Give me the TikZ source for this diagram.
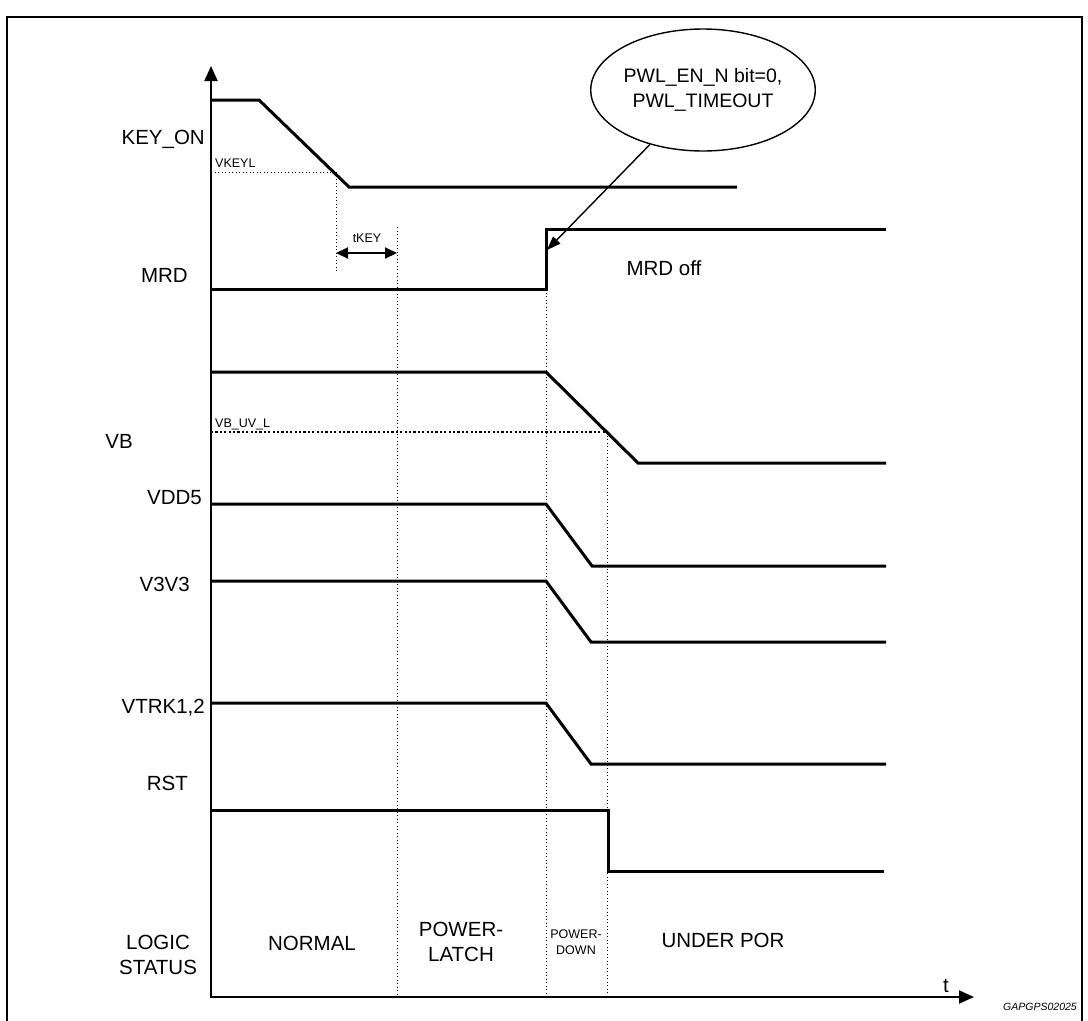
\documentclass[tikz,border=0pt]{standalone}
\usepackage{fontspec}
\setmainfont{Liberation Sans}
\usetikzlibrary{arrows.meta,shapes.geometric}
\begin{document}
\begin{tikzpicture}[x=1pt,y=-1pt,
  lab/.style={inner sep=0pt,font=\fontsize{20.5}{25}\selectfont},
  smalllab/.style={inner sep=0pt,font=\fontsize{12.5}{15}\selectfont},
  sig/.style={line width=3pt,line join=miter},
  axisline/.style={line width=2pt,-{Triangle[length=15pt,width=13pt]}},
  thindots/.style={line width=1pt,dash pattern=on 1pt off 2.5pt},
  thickdots/.style={line width=2.2pt,dash pattern=on 2.2pt off 2.2pt},
  frameline/.style={line width=2.4pt},
  callout/.style={line width=1.4pt,-{Triangle[length=14pt,width=10pt]}},
  dimarrow/.style={line width=2pt,{Triangle[length=12pt,width=11pt]}-{Triangle[length=12pt,width=11pt]}}
]
\useasboundingbox (0,0) rectangle (1088,1021);
% frame
\draw[frameline] (7,1021) -- (7,17) -- (1082,17) -- (1082,1021);

% axes
\coordinate (orig) at (211,997);
\coordinate (ytip) at (211,66);
\coordinate (xtip) at (974,997);
\draw[axisline] (orig) -- (ytip);
\draw[axisline] (210,997) -- (xtip);

% dotted guides
\draw[thindots] (211,172) -- (336,172);
\draw[thindots] (336,172) -- (336,272);
\draw[thindots] (397,227) -- (397,997);
\draw[thindots] (546,289) -- (546,997);
\draw[thindots] (607,432) -- (607,997);
\draw[thickdots] (211,432) -- (607,432);

% KEY_ON
\draw[sig] (211,100) -- (259,100) -- (349,187) -- (737,187);
% MRD
\draw[sig] (211,289) -- (546,289) -- (546,229) -- (886,229);
% VB
\draw[sig] (211,372) -- (546,372) -- (638,463) -- (886,463);
% VDD5
\draw[sig] (211,504) -- (546,504) -- (592,566) -- (886,566);
% V3V3
\draw[sig] (211,581) -- (546,581) -- (591,642) -- (886,642);
% VTRK1,2
\draw[sig] (211,703) -- (546,703) -- (591,764) -- (886,764);
% RST
\draw[sig] (211,810) -- (608,810) -- (608,871) -- (884,871);

% tKEY
\coordinate (tka) at (336,253);
\coordinate (tkb) at (397,253);
\draw[dimarrow] (tka) -- (tkb);
\node[smalllab,anchor=base] (tkey) at (367,242.5) {tKEY};

% signal labels
\node[lab,anchor=base east] (lkey) at (205,144.5) {KEY\_ON};
\node[lab,anchor=base east] (lmrd) at (188,282.5) {MRD};
\node[lab,anchor=base east] (lvb) at (133,448.5) {VB};
\node[lab,anchor=base east] (lvdd) at (202,504.5) {VDD5};
\node[lab,anchor=base east] (lv33) at (190,591.5) {V3V3};
\node[lab,anchor=base east] (lvtrk) at (205,713.5) {VTRK1,2};
\node[lab,anchor=base east] (lrst) at (188,790.5) {RST};
\node[lab,align=center,anchor=base] (llogic) at (158,974.5) {LOGIC\\STATUS};

\node[smalllab,anchor=base west] (lvkeyl) at (215,167.5) {VKEYL};
\node[smalllab,anchor=base west] (lvbuv) at (215,427.5) {VB\_UV\_L};

% MRD off & callout
\node[lab,anchor=base] (mrdoff) at (664,275.5) {MRD off};
\node[draw,ellipse,line width=1.4pt,minimum width=186pt,minimum height=122pt,inner sep=0pt,
      align=center,font=\fontsize{19.5}{25}\selectfont] (ell) at (703,90)
      {PWL\_EN\_N bit=0,\\PWL\_TIMEOUT};
\coordinate (mrdhit) at (547,250);
\draw[callout] (ell) -- (mrdhit);

% states
\node[lab,anchor=base] (snormal) at (312,950) {NORMAL};
\node[lab,align=center,anchor=base] (spl) at (461,961.5) {POWER-\\LATCH};
\node[inner sep=0pt,align=center,anchor=base,font=\fontsize{12.5}{16}\selectfont] (spd) at (576,954.5) {POWER-\\DOWN};
\node[lab,anchor=base] (sunder) at (723,947.5) {UNDER POR};

\node[lab,anchor=base] (tlab) at (946,992) {t};
\node[inner sep=0pt,anchor=base,font=\fontsize{10.5}{12}\itshape] (code) at (1040,1010) {GAPGPS02025};
\end{tikzpicture}
\end{document}
